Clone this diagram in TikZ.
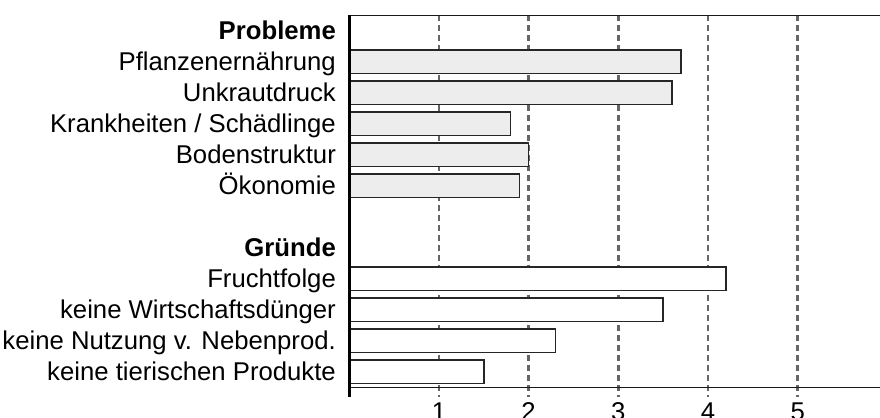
\documentclass[tikz,border=0pt]{standalone}
\usepackage{fontspec}
\setmainfont{Liberation Sans}
\begin{document}
\begin{tikzpicture}[x=89.7bp,y=-31bp,
  barprob/.style={draw=black!85,line width=1.6bp,fill=black!7},
  bargrund/.style={draw=black!85,line width=1.6bp,fill=white},
  gridln/.style={draw=black!60,line width=2.8bp,dash pattern=on 5.5bp off 4.5bp},
  axisln/.style={draw=black!90,line width=1.5bp},
  lbl/.style={anchor=base east,inner sep=0pt,font=\fontsize{25.7bp}{30bp}\selectfont},
  ticklbl/.style={anchor=base,inner sep=0pt,font=\fontsize{25.7bp}{30bp}\selectfont}]
  \useasboundingbox (-3.893,-0.994) rectangle (5.917,12.458);
%%
  % Grid: dashed lines with ticks
  \draw [gridln] (1,-0.5) -- (1,11.8);
  \draw [gridln] (2,-0.5) -- (2,11.8);
  \draw [gridln] (3,-0.5) -- (3,11.8);
  \draw [gridln] (4,-0.5) -- (4,11.8);
  \draw [gridln] (5,-0.5) -- (5,11.8);
  % Bar: Pflanzenernaehrung
  \draw [barprob] (0,0.625) rectangle (3.7,1.375);
  % Bar: Unkrautdruck
  \draw [barprob] (0,1.625) rectangle (3.6,2.375);
  % Bar: Krankheiten
  \draw [barprob] (0,2.625) rectangle (1.8,3.375);
  % Bar: Bodenstruktur
  \draw [barprob] (0,3.625) rectangle (2.0,4.375);
  % Bar: Oekonomie
  \draw [barprob] (0,4.625) rectangle (1.9,5.375);
  % Bar: Fruchtfolge
  \draw [bargrund] (0,7.625) rectangle (4.2,8.375);
  % Bar: Wirtschaftsduenger
  \draw [bargrund] (0,8.625) rectangle (3.5,9.375);
  % Bar: Nebenprodukte
  \draw [bargrund] (0,9.625) rectangle (2.3,10.375);
  % Bar: tierische Produkte
  \draw [bargrund] (0,10.625) rectangle (1.5,11.375);
  % Axes
  \draw [axisln] (0,-0.5) -- (6,-0.5);
  \draw [axisln] (0,11.5) -- (6,11.5);
  \draw [black,line width=3bp] (0,-0.5) -- (0,11.8);
  % Labels
  \node [lbl] (probleme) at (-0.147,0.29) {\bfseries Probleme};
  \node [lbl] (pflanzen) at (-0.147,1.29) {Pflanzenernährung};
  \node [lbl] (unkraut) at (-0.147,2.29) {Unkrautdruck};
  \node [lbl] (krankheit) at (-0.147,3.29) {Krankheiten / Schädlinge};
  \node [lbl] (boden) at (-0.147,4.29) {Bodenstruktur};
  \node [lbl] (oekonomie) at (-0.147,5.29) {Ökonomie};
  \node [lbl] (gruende) at (-0.147,7.29) {\bfseries Gründe};
  \node [lbl] (frucht) at (-0.147,8.29) {Fruchtfolge};
  \node [lbl] (wirtschaft) at (-0.147,9.29) {keine Wirtschaftsdünger};
  \node [lbl] (neben) at (-0.147,10.29) {keine Nutzung v. Nebenprod.};
  \node [lbl] (tierisch) at (-0.147,11.29) {keine tierischen Produkte};
  % Tick labels
  \node [ticklbl] (tick1) at (1,12.555) {1};
  \node [ticklbl] (tick2) at (2,12.555) {2};
  \node [ticklbl] (tick3) at (3,12.555) {3};
  \node [ticklbl] (tick4) at (4,12.555) {4};
  \node [ticklbl] (tick5) at (5,12.555) {5};
%
\end{tikzpicture}
\end{document}
